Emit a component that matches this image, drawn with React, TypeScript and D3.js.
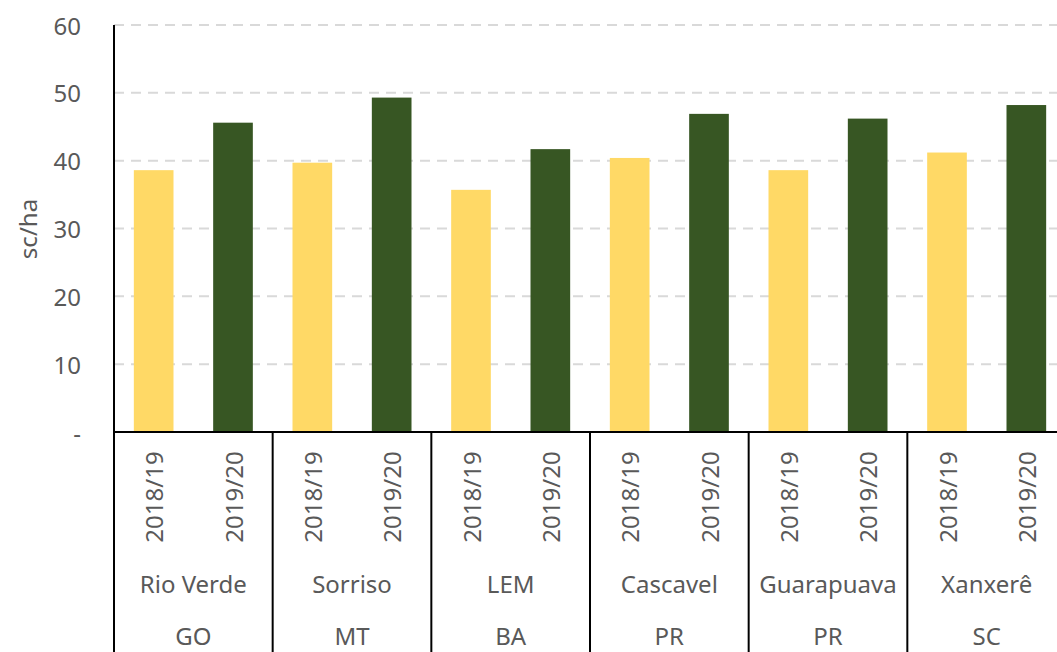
import React from "react";
import * as d3 from "d3";

const cities = ["Rio Verde", "Sorriso", "LEM", "Cascavel", "Guarapuava", "Xanxerê"];
const states = ["GO", "MT", "BA", "PR", "PR", "SC"];
const seasons = ["2018/19", "2019/20"];
const values1819 = [38.6, 39.7, 35.7, 40.4, 38.6, 41.2];
const values1920 = [45.6, 49.3, 41.7, 46.9, 46.2, 48.2];
const yTicks = [0, 10, 20, 30, 40, 50, 60];
const yLabel = "sc/ha";

const W = 1057;
const H = 652;
const colors = ["#FFD966", "#375623"];
const textColor = "#595959";
const font = "'Noto Sans', sans-serif";

export default function App() {
  const plotLeft = 114;
  const plotRight = 1066;
  const y = d3.scaleLinear().domain([0, 60]).range([432, 25]);
  const xGroup = d3.scaleBand<number>().domain(d3.range(cities.length)).range([plotLeft, plotRight]).paddingInner(0).paddingOuter(0);
  const gw = xGroup.bandwidth();
  const xInner = d3.scaleBand<string>().domain(seasons).range([0, gw]).paddingInner(0.5).paddingOuter(0.25);
  const series = [values1819, values1920];
  const y0 = y(0);

  return (
    <svg width={W} height={H} style={{ position: "absolute", left: 0, top: 0, background: "#fff" }} fontFamily={font}>
      {/* gridlines */}
      {yTicks.filter((t) => t > 0).map((t) => (
        <line key={t} x1={plotLeft} x2={W} y1={y(t)} y2={y(t)} stroke="#D9D9D9" strokeWidth={2} strokeDasharray="10,7" />
      ))}
      {/* bars */}
      {cities.map((c, gi) =>
        seasons.map((s, si) => {
          const v = series[si][gi];
          const x = (xGroup(gi) as number) + (xInner(s) as number);
          return <rect key={c + s} x={x} y={y(v)} width={xInner.bandwidth()} height={y0 - y(v) + 1} fill={colors[si]} />;
        })
      )}
      {/* y axis */}
      <line x1={plotLeft} x2={plotLeft} y1={y(60)} y2={H} stroke="#000" strokeWidth={2} />
      {yTicks.map((t) => (
        <text key={t} x={81} y={y(t)} textAnchor="end" dominantBaseline="central" fontSize={24} fill={textColor}>
          {t === 0 ? "-" : t}
        </text>
      ))}
      <text transform={`translate(27,${229}) rotate(-90)`} textAnchor="middle" dominantBaseline="central" fontSize={24} fill={textColor}>
        {yLabel}
      </text>
      {/* baseline */}
      <line x1={plotLeft} x2={W} y1={y0} y2={y0} stroke="#000" strokeWidth={2} />
      {/* group dividers */}
      {d3.range(cities.length + 1).map((i) => {
        const x = plotLeft + i * gw;
        return <line key={i} x1={x} x2={x} y1={y0} y2={H} stroke="#000" strokeWidth={2} />;
      })}
      {/* category labels */}
      {cities.map((c, gi) => {
        const gx = xGroup(gi) as number;
        return (
          <g key={c}>
            {seasons.map((s) => {
              const cx = gx + (xInner(s) as number) + xInner.bandwidth() / 2;
              return (
                <text key={s} transform={`translate(${cx},497) rotate(-90)`} textAnchor="middle" dominantBaseline="central" fontSize={24} fill={textColor}>
                  {s}
                </text>
              );
            })}
            <text x={gx + gw / 2} y={583} textAnchor="middle" dominantBaseline="central" fontSize={24} fill={textColor}>
              {c}
            </text>
            <text x={gx + gw / 2} y={635} textAnchor="middle" dominantBaseline="central" fontSize={24} fill={textColor}>
              {states[gi]}
            </text>
          </g>
        );
      })}
    </svg>
  );
}
